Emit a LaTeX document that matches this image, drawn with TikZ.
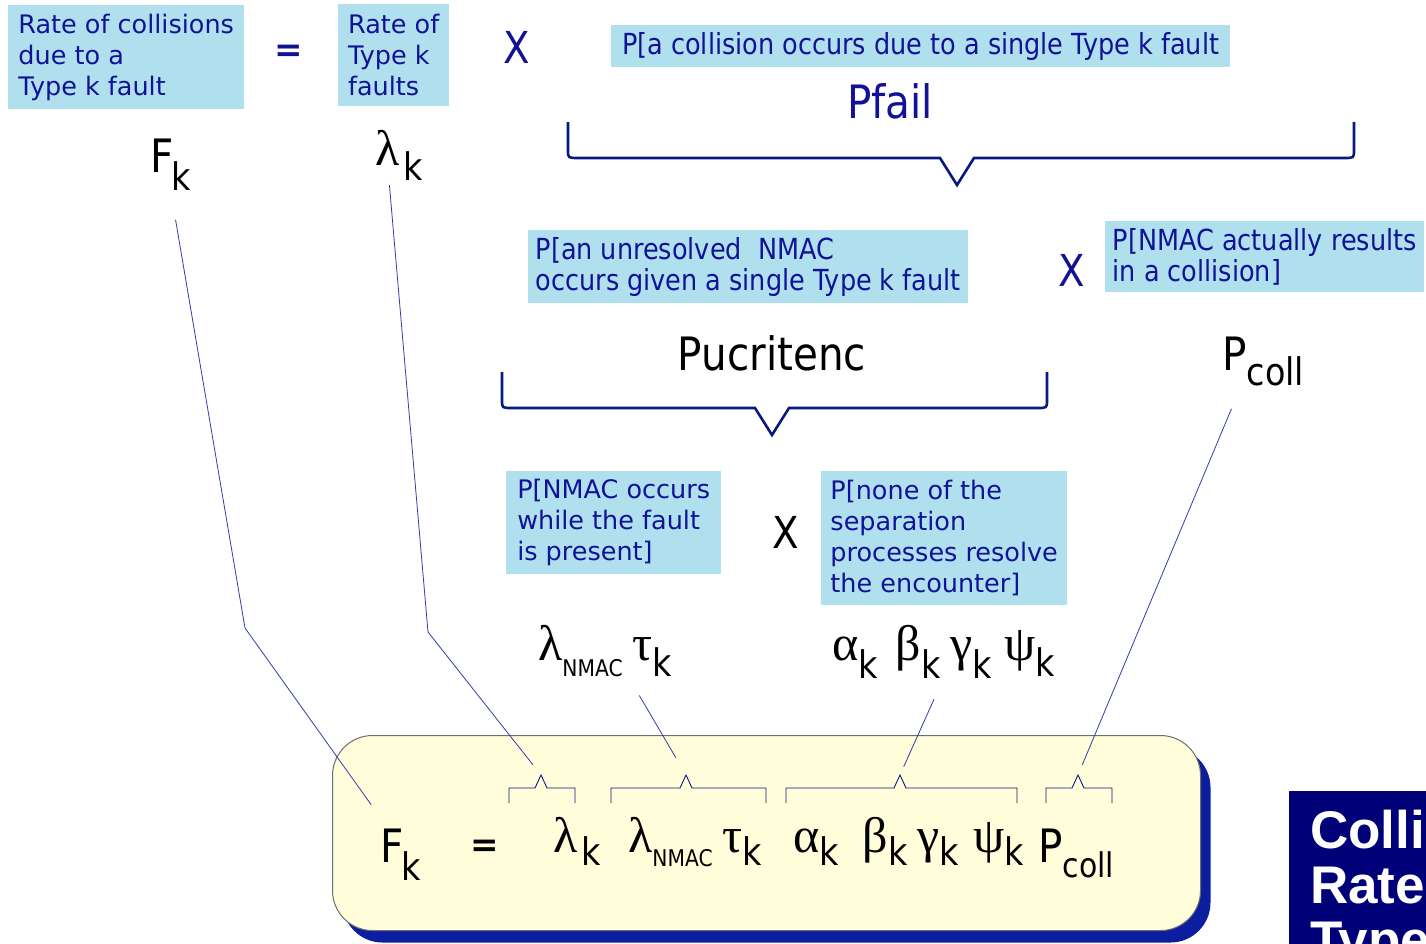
\documentclass[tikz,border=0pt]{standalone}
\usepackage{fontspec}
\setmainfont{DejaVu Sans}
\newfontfamily\condfont[FakeStretch=0.88]{DejaVu Sans}
\newfontfamily\greekfont{Liberation Serif}
\newfontfamily\headfont{Liberation Sans}
\usetikzlibrary{shadows}

\definecolor{skyfill}{RGB}{176,224,238}
\definecolor{inktext}{RGB}{18,18,150}
\definecolor{bracenavy}{RGB}{10,25,130}
\definecolor{linkblue}{RGB}{50,60,170}
\definecolor{creamfill}{RGB}{255,253,218}
\definecolor{shadowblue}{RGB}{12,30,160}
\definecolor{headnavy}{RGB}{0,0,120}
\definecolor{rimgray}{RGB}{110,110,110}

% greek letter and lowered subscript
\newcommand{\gr}[1]{{\greekfont\fontsize{50}{50}\selectfont #1}}
\newcommand{\lowsub}[3][16pt]{\raisebox{-#1}{\condfont\fontsize{#2}{#2}\selectfont #3}}

% big brace: x1, x2, tip x, top y, line y, tip y
\newcommand{\bigbrace}[6]{%
  \draw[brace] (#1,#4) -- (#1,#5-8) .. controls (#1,#5) .. (#1+10,#5) -- (#3-17,#5)
    -- (#3,#6) -- (#3+17,#5) -- (#2-10,#5) .. controls (#2,#5) .. (#2,#5-8) -- (#2,#4);}
% small brace in the formula: name, x1, x2, tip x
\newcommand{\capbrace}[4]{%
  \coordinate (#1) at (#4,775);
  \draw[capline] (#2,803) -- (#2,788) -- (#4-6,788) -- (#1) -- (#4+6,788) -- (#3,788) -- (#3,803);}

\begin{document}
\begin{tikzpicture}[x=1pt, y=-1pt,
  infobox/.style={fill=skyfill, text=inktext, align=left, inner sep=0pt, anchor=north west,
    font=\fontsize{25.5}{31}\selectfont},
  condbox/.style={infobox, font=\condfont\fontsize{29}{31}\selectfont},
  term/.style={inner sep=0pt, anchor=base west, font=\condfont\fontsize{46}{46}\selectfont},
  timesop/.style={inner sep=0pt, font=\condfont\fontsize{44}{44}\selectfont},
  brace/.style={draw=bracenavy, line width=2.6pt},
  capline/.style={draw=bracenavy, line width=0.9pt},
  link/.style={draw=linkblue, line width=0.8pt},
  formbox/.style={fill=creamfill, draw=rimgray, line width=1pt, rounded corners=40pt,
    minimum width=868pt, minimum height=195pt, anchor=north west,
    drop shadow={shadow xshift=10pt, shadow yshift=-12pt, fill=shadowblue, opacity=1}}]
  \useasboundingbox[fill=white] (0,0) rectangle (1426,943);

  % top row
  \node[infobox, minimum width=236pt, minimum height=104pt] (rate) at (8,5) {Rate of collisions\\due to a\\Type k fault};
  \node[inner sep=0pt, text=inktext, font=\bfseries\fontsize{34}{34}\selectfont] (eqtop) at (289,53) {=};
  \node[infobox, minimum width=111pt, minimum height=102pt] (ratek) at (338,4) {Rate of\\Type k\\faults};
  \node[timesop, text=inktext] (x1) at (517,47) {X};
  \node[condbox, minimum width=619pt, minimum height=42pt] (pcolltxt) at (611,25) {P[a collision occurs due to a single Type k fault};
  \node[inner sep=0pt, text=inktext, font=\condfont\fontsize{46}{46}\selectfont] (pfail) at (890,101) {Pfail};
  \node[term] (Fk) at (150,172) {F\kern-2pt\lowsub[18pt]{38}{k}};
  \node[term] (lamk) at (375,165) {\gr{λ}\kern4pt\lowsub[15pt]{38}{k}};
  \bigbrace{568}{1354}{957}{122}{158}{185}

  % second row
  \begin{scope}
    \clip (528,230) rectangle (968,303);
    \node[condbox, minimum width=440pt, minimum height=73pt] (ucrit) at (528,230) {P[an unresolved\ \ NMAC\\occurs given a single Type k fault};
  \end{scope}
  \node[timesop, text=inktext] (x2) at (1072,270) {X};
  \node[condbox, minimum width=319pt, minimum height=71pt] (actual) at (1105,221) {P[NMAC actually results\\in a collision]};
  \node[inner sep=0pt, font=\condfont\fontsize{46}{46}\selectfont] (pucrit) at (772,353) {Pucritenc};
  \node[term] (pcoll) at (1222,370) {P\lowsub[15pt]{38}{coll}};
  \bigbrace{502}{1047}{772}{372}{408}{435}

  % third row
  \node[infobox, minimum width=215pt, minimum height=103pt] (during) at (506,471) {P[NMAC occurs\\while the fault\\is present]};
  \node[timesop] (x3) at (786,532) {X};
  \node[infobox, minimum width=246pt, minimum height=134pt] (noneres) at (821,471) {P[none of the\\separation\\processes resolve\\the encounter]};
  \node[term] (nmac) at (538,660) {\gr{λ}\lowsub{23}{NMAC}\hspace{10pt}\gr{τ}\lowsub{38}{k}};
  \node[term] (greeks) at (832,660) {\gr{α}\lowsub[18pt]{38}{k}\hspace{18pt}\gr{β}\lowsub[18pt]{38}{k}\hspace{10pt}\gr{γ}\lowsub[18pt]{38}{k}\hspace{12pt}\gr{ψ}\lowsub[16pt]{38}{k}};

  % formula
  \node[formbox] (formula) at (332,735) {};
  \node[term] (eqF) at (380,862) {F\kern-2pt\lowsub[18pt]{38}{k}};
  \node[inner sep=0pt, font=\bfseries\fontsize{34}{34}\selectfont] (eqsign) at (485,848) {=};
  \node[term] (eqlam) at (553,852) {\gr{λ}\kern4pt\lowsub[13pt]{38}{k}};
  \node[term] (eqnmac) at (628,852) {\gr{λ}\lowsub[14pt]{23}{NMAC}\hspace{10pt}\gr{τ}\lowsub[13pt]{38}{k}};
  \node[term] (eqgreeks) at (793,852) {\gr{α}\lowsub[13pt]{38}{k}\hspace{24pt}\gr{β}\lowsub[13pt]{38}{k}\hspace{10pt}\gr{γ}\lowsub[13pt]{38}{k}\hspace{14pt}\gr{ψ}\lowsub[13pt]{38}{k}};
  \node[term] (eqpcoll) at (1038,862) {P\lowsub[15pt]{34}{coll}};
  \capbrace{tipa}{509}{575}{541}
  \capbrace{tipb}{611}{766}{686}
  \capbrace{tipc}{786}{1017}{900}
  \capbrace{tipd}{1046}{1112}{1078}

  % connectors
  \coordinate (bendf) at (245,628);
  \coordinate (bendl) at (428,632);
  \draw[link, shorten <=30pt, shorten >=29pt] (Fk.south) -- (bendf) -- ([xshift=8pt]eqF.north west);
  \draw[link, shorten <=5pt, shorten >=13pt] ([xshift=-10pt]lamk.south) -- (bendl) -- (tipa);
  \draw[link, shorten <=22pt, shorten >=20pt] ([xshift=23pt]nmac.south) -- (tipb);
  \draw[link, shorten <=23pt, shorten >=9pt] (greeks.south) -- (tipc);
  \draw[link, shorten <=25pt, shorten >=11pt] ([xshift=-22pt]pcoll.south) -- (tipd);

  % title box, cut by the page edge
  \fill[headnavy] (1289,791) rectangle (1440,960);
  \node[inner sep=0pt, anchor=north west, align=left, text=white,
    font=\headfont\bfseries\fontsize{53}{55}\selectfont] (title) at (1310,810) {Collision\\Rate\\Type};
\end{tikzpicture}
\end{document}
